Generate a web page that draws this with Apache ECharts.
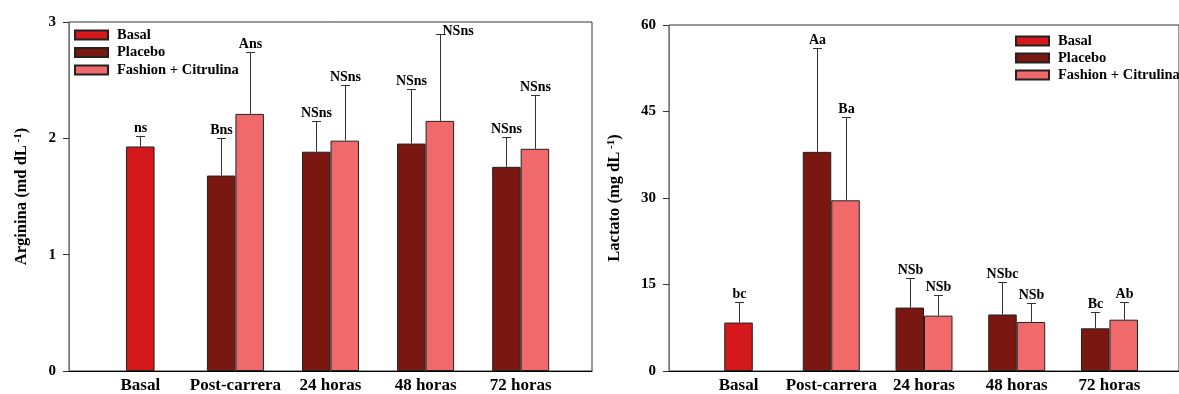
<!DOCTYPE html>
<html><head><meta charset="utf-8">
<script src="https://cdn.jsdelivr.net/npm/echarts@6/dist/echarts.min.js"></script>
<style>html,body{margin:0;padding:0;background:#fff}#c{width:1179px;height:394px}</style>
</head><body><div id="c"></div>
<script>
// ---------- data ----------
const categories = ['Basal', 'Post-carrera', '24 horas', '48 horas', '72 horas'];
const seriesNames = ['Basal', 'Placebo', 'Fashion + Citrulina'];

// Arginina (md dL-1)
const argBasal = [1.93];
const argBasalErr = [0.09];
const argBasalLbl = ['ns'];
const argPlacebo = [1.68, 1.885, 1.955, 1.755];
const argPlaceboErr = [0.325, 0.26, 0.465, 0.26];
const argPlaceboLbl = ['Bns', 'NSns', 'NSns', 'NSns'];
const argFashion = [2.21, 1.98, 2.15, 1.91];
const argFashionErr = [0.53, 0.48, 0.75, 0.46];
const argFashionLbl = ['Ans', 'NSns', 'NSns', 'NSns'];
const argTicks = [0, 1, 2, 3];

// Lactato (mg dL-1)
const lacBasal = [8.4];
const lacBasalErr = [3.6];
const lacBasalLbl = ['bc'];
const lacPlacebo = [38.0, 11.0, 9.8, 7.4];
const lacPlaceboErr = [17.95, 5.2, 5.7, 2.9];
const lacPlaceboLbl = ['Aa', 'NSb', 'NSbc', 'Bc'];
const lacFashion = [29.6, 9.6, 8.5, 8.9];
const lacFashionErr = [14.5, 3.5, 3.3, 3.0];
const lacFashionLbl = ['Ba', 'NSb', 'NSb', 'Ab'];
const lacTicks = [0, 15, 30, 45, 60];

// ---------- style ----------
const FONT = '"Liberation Serif", "Times New Roman", serif';
const COLORS = ['#D4181B', '#7A1710', '#F06A6C'];
const BAR_W = 28.5;

function barSeries(name, color, xi, yi, values, start) {
  return {
    type: 'bar', name: name, xAxisIndex: xi, yAxisIndex: yi,
    barWidth: BAR_W, barGap: '0%',
    itemStyle: { color: color, borderColor: '#222', borderWidth: 1 },
    data: values.map((v, k) => [k + start, v]),
    z: 2
  };
}

function errSeries(xi, yi, values, errs, labels, start, side) {
  return {
    type: 'custom', xAxisIndex: xi, yAxisIndex: yi, clip: false, z: 5,
    encode: { x: 0, y: 1 },
    data: values.map((v, k) => [k + start, v, errs[k]]),
    renderItem: function (params, api) {
      const x = api.value(0), v = api.value(1), e = api.value(2);
      const b = api.coord([x, v]);
      const t = api.coord([x, v + e]);
      const cx = Math.round(b[0] + side * BAR_W / 2) + 0.5;
      const ty = Math.round(t[1]) + 0.5;
      const cs = params.coordSys;
      const lbl = labels[params.dataIndex];
      const fits = ty - 17 >= cs.y;
      return {
        type: 'group',
        children: [
          { type: 'line', shape: { x1: cx, y1: b[1], x2: cx, y2: ty }, style: { stroke: '#333', lineWidth: 1 } },
          { type: 'line', shape: { x1: cx - 4.5, y1: ty, x2: cx + 4.5, y2: ty }, style: { stroke: '#333', lineWidth: 1 } },
          { type: 'text', style: fits ?
              { text: lbl, x: cx, y: ty - 1, align: 'center', verticalAlign: 'bottom', font: 'bold 14px ' + FONT, fill: '#000' } :
              { text: lbl, x: cx + 2, y: ty + 4, align: 'left', verticalAlign: 'bottom', font: 'bold 14px ' + FONT, fill: '#000' } }
        ]
      };
    }
  };
}

function xAxes(gi, show) {
  return {
    type: 'value', gridIndex: gi, min: -0.75, max: 4.75, show: show,
    axisLine: { show: true, onZero: false, lineStyle: { color: '#000', width: 1 } },
    axisTick: { show: false },
    splitLine: { show: false },
    axisLabel: {
      customValues: [0, 1, 2, 3, 4],
      formatter: v => categories[Math.round(v)],
      fontFamily: FONT, fontWeight: 'bold', fontSize: 17, color: '#000', margin: 6
    }
  };
}

function yAxis(gi, ticks, name, gap) {
  return {
    type: 'value', gridIndex: gi, min: ticks[0], max: ticks[ticks.length - 1],
    interval: ticks[1] - ticks[0],
    name: name, nameLocation: 'middle', nameRotate: 90, nameGap: gap,
    nameTextStyle: {
      fontFamily: FONT, fontWeight: 'bold', fontSize: 16.5, color: '#000',
      rich: { sup: { fontFamily: FONT, fontWeight: 'bold', fontSize: 11, verticalAlign: 'top', color: '#000' },
              n: { fontFamily: FONT, fontWeight: 'bold', fontSize: 16.5, color: '#000' } }
    },
    axisLine: { show: true, onZero: false, lineStyle: { color: '#777', width: 1 } },
    axisTick: { show: true, inside: false, length: 6, lineStyle: { color: '#333' } },
    splitLine: { show: false },
    axisLabel: { fontFamily: FONT, fontWeight: 'bold', fontSize: 15, color: '#000', margin: 13 }
  };
}

function legend(left, top, gap) {
  return {
    data: seriesNames, orient: 'vertical', left: left, top: top, padding: 0,
    itemWidth: 33, itemHeight: 9, itemGap: gap, icon: 'rect',
    selectedMode: false,
    textStyle: { fontFamily: FONT, fontWeight: 'bold', fontSize: 14.5, color: '#000', lineHeight: 16, padding: [0, 0, 0, 4] }
  };
}

const chart = echarts.init(document.getElementById('c'), null, { renderer: 'canvas' });
chart.setOption({
  animation: false,
  backgroundColor: '#fff',
  grid: [
    { left: 69, right: 587, top: 22, bottom: 22, show: true, borderColor: '#333', borderWidth: 1 },
    { left: 669, right: -9, top: 25, bottom: 22, show: true, borderColor: '#333', borderWidth: 1 }
  ],
  legend: [legend(74, 27, 1.5), legend(1015, 33, 1)],
  xAxis: [xAxes(0, true), xAxes(0, false), xAxes(1, true), xAxes(1, false)],
  yAxis: [
    yAxis(0, argTicks, '{n|Arginina (md dL}{sup| -1}{n|)}', 39),
    yAxis(1, lacTicks, '{n|Lactato (mg dL}{sup| -1}{n|)}', 46)
  ],
  series: [
    barSeries(seriesNames[0], COLORS[0], 1, 0, argBasal, 0),
    barSeries(seriesNames[1], COLORS[1], 0, 0, argPlacebo, 1),
    barSeries(seriesNames[2], COLORS[2], 0, 0, argFashion, 1),
    errSeries(1, 0, argBasal, argBasalErr, argBasalLbl, 0, 0),
    errSeries(0, 0, argPlacebo, argPlaceboErr, argPlaceboLbl, 1, -1),
    errSeries(0, 0, argFashion, argFashionErr, argFashionLbl, 1, 1),

    barSeries(seriesNames[0], COLORS[0], 3, 1, lacBasal, 0),
    barSeries(seriesNames[1], COLORS[1], 2, 1, lacPlacebo, 1),
    barSeries(seriesNames[2], COLORS[2], 2, 1, lacFashion, 1),
    errSeries(3, 1, lacBasal, lacBasalErr, lacBasalLbl, 0, 0),
    errSeries(2, 1, lacPlacebo, lacPlaceboErr, lacPlaceboLbl, 1, -1),
    errSeries(2, 1, lacFashion, lacFashionErr, lacFashionLbl, 1, 1)
  ]
});
</script>
</body></html>
